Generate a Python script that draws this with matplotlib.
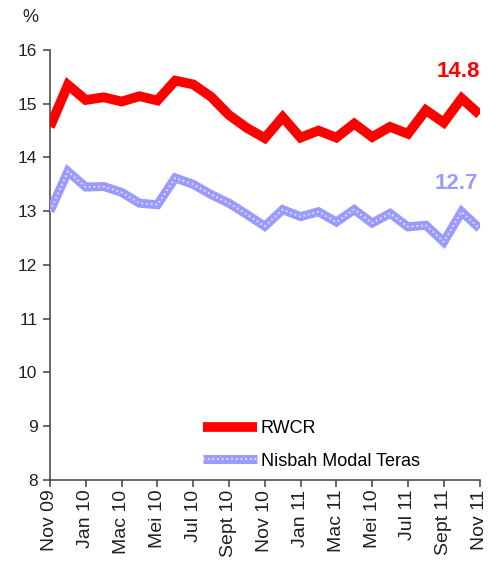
"""
RWCR dan Nisbah Modal Teras (Nov 09 - Nov 11)
"""
import matplotlib
matplotlib.use("Agg")
import matplotlib.pyplot as plt
from matplotlib.legend_handler import HandlerTuple

plt.rcParams['font.family'] = ['Liberation Sans', 'DejaVu Sans']

# data bulanan, Nov 09 .. Nov 11
rwcr = [14.57, 15.35, 15.07, 15.12, 15.04, 15.14, 15.06, 15.43, 15.36, 15.13,
        14.79, 14.55, 14.36, 14.75, 14.37, 14.50, 14.37, 14.63, 14.38, 14.57,
        14.44, 14.88, 14.65, 15.10, 14.80]
modal_teras = [13.00, 13.74, 13.45, 13.46, 13.35, 13.15, 13.12, 13.62, 13.50, 13.31,
               13.15, 12.94, 12.72, 13.03, 12.90, 12.99, 12.80, 13.03, 12.78, 12.96,
               12.71, 12.74, 12.43, 12.99, 12.68]
tick_labels = ["Nov 09", "Jan 10", "Mac 10", "Mei 10", "Jul 10", "Sept 10", "Nov 10",
               "Jan 11", "Mac 11", "Mei 10", "Jul 11", "Sept 11", "Nov 11"]
last_rwcr = "14.8"
last_teras = "12.7"

RED = "#FF0000"
BLUE = "#9A9AFF"
AXIS = "#404040"

months = list(range(len(rwcr)))

fig = plt.figure(figsize=(4.96, 5.68), dpi=100)
ax = fig.add_axes([0.1008, 0.155, 0.866, 0.757])

# garis
red_line, = ax.plot(months, rwcr, color=RED, lw=7, solid_joinstyle='miter',
                    solid_capstyle='butt', zorder=3)
blue_line, = ax.plot(months, modal_teras, color=BLUE, lw=6.5, solid_joinstyle='miter',
                     solid_capstyle='butt', zorder=3)
blue_dots, = ax.plot(months, modal_teras, color="white", lw=1.3, alpha=0.75,
                     linestyle=(0, (1, 1.6)), zorder=4)

# label nilai terakhir
ax.text(months[-1] - 1.2, 15.6, last_rwcr, color=RED, fontsize=16, fontweight='bold',
        ha='center', va='center')
ax.text(months[-1] - 1.3, 13.52, last_teras, color=BLUE, fontsize=16, fontweight='bold',
        ha='center', va='center')

# sumbu
ax.set_xlim(0, len(rwcr) - 1)
ax.set_ylim(8, 16)
ax.set_yticks(range(8, 17))
ax.set_xticks(months[::2])
ax.set_xticklabels(tick_labels, rotation=90, fontsize=14)
ax.tick_params(axis='y', labelsize=12.5, length=5, width=1.1, color=AXIS,
               labelcolor="#222222", pad=4)
ax.tick_params(axis='x', length=5, width=1.1, color=AXIS, labelcolor="#222222", pad=2)

for side in ['top', 'right']:
    ax.spines[side].set_visible(False)
for side in ['left', 'bottom']:
    ax.spines[side].set_color(AXIS)
    ax.spines[side].set_linewidth(1.1)

fig.text(0.045, 0.97, "%", fontsize=13, color="#222222", ha='left', va='center')

ax.legend([red_line, (blue_line, blue_dots)], ["RWCR", "Nisbah Modal Teras"],
          handler_map={tuple: HandlerTuple(ndivide=1, pad=0)},
          loc='upper left', bbox_to_anchor=(0.356, 0.139), frameon=False,
          fontsize=13, handlelength=3.0, handletextpad=0.2, borderpad=0,
          borderaxespad=0, labelspacing=0.85)

plt.savefig("out.png", dpi=100, facecolor='white')
plt.close()
